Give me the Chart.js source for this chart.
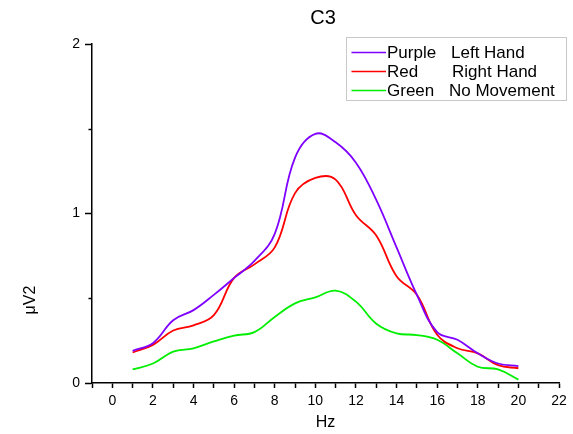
<!DOCTYPE html>
<html>
<head>
<meta charset="utf-8">
<script src="https://cdn.jsdelivr.net/npm/chart.js@4"></script>
<style>
  html, body { margin: 0; padding: 0; background: #fff; }
  #wrap { width: 573px; height: 434px; position: relative; }
</style>
</head>
<body>
<div id="wrap"><canvas id="c"></canvas></div>
<script>
// ---- data ----
const chartTitle = "C3";
const xTitle = "Hz";
const yTitle = "μV2";
const freqs = [1, 2, 3, 4, 5, 6, 7, 8, 9, 10, 11, 12, 13, 14, 15, 16, 17, 18, 19, 20];
const purpleLeft = [0.19, 0.235, 0.37, 0.43, 0.52, 0.62, 0.72, 0.88, 1.33, 1.47, 1.42, 1.30, 1.08, 0.80, 0.52, 0.30, 0.255, 0.175, 0.115, 0.10];
const redRight   = [0.18, 0.225, 0.31, 0.34, 0.40, 0.62, 0.70, 0.80, 1.12, 1.21, 1.20, 0.99, 0.87, 0.63, 0.52, 0.285, 0.205, 0.175, 0.105, 0.087];
const greenNone  = [0.08, 0.115, 0.185, 0.205, 0.245, 0.28, 0.30, 0.39, 0.47, 0.505, 0.545, 0.48, 0.35, 0.293, 0.283, 0.255, 0.175, 0.096, 0.08, 0.02];
const seriesNames = ["Purple", "Red", "Green"];
const seriesDescs = ["Left Hand", "Right Hand", "No Movement"];
const seriesColors = ["#7F00FF", "#FF0000", "#00EE00"];
const yMajorTicks = [0, 1, 2];
const yMinorTicks = [0.5, 1.5];
const xTickLabels = [0, 2, 4, 6, 8, 10, 12, 14, 16, 18, 20, 22];

const FONT = '"Liberation Sans", Arial, sans-serif';
const toPts = arr => arr.map((v, i) => ({ x: freqs[i], y: v }));
const seriesValues = [purpleLeft, redRight, greenNone];

const datasets = seriesValues.map((vals, i) => ({
  label: seriesNames[i] + " " + seriesDescs[i],
  data: toPts(vals),
  borderColor: seriesColors[i],
  backgroundColor: seriesColors[i],
  borderWidth: 1.8,
  pointRadius: 0,
  tension: 0.4,
  fill: false
}));

const decor = {
  id: 'decor',
  afterDraw(chart) {
    const ctx = chart.ctx;
    const ys = chart.scales.y;
    const ca = chart.chartArea;
    ctx.save();
    // minor y ticks
    ctx.strokeStyle = '#000';
    ctx.lineWidth = 1.5;
    yMinorTicks.forEach(v => {
      const py = Math.round(ys.getPixelForValue(v)) + 0.5;
      ctx.beginPath();
      ctx.moveTo(ca.left - 3.5, py);
      ctx.lineTo(ca.left, py);
      ctx.stroke();
    });
    // title
    ctx.fillStyle = '#000';
    ctx.font = '20px ' + FONT;
    ctx.textAlign = 'center';
    ctx.textBaseline = 'middle';
    ctx.fillText(chartTitle, 323, 18);
    // x title
    ctx.font = '16px ' + FONT;
    ctx.fillText(xTitle, (ca.left + ca.right) / 2, 423);
    // y title
    ctx.save();
    ctx.translate(31, 300);
    ctx.rotate(-Math.PI / 2);
    ctx.fillText(yTitle, 0, 0);
    ctx.restore();
    // legend box
    ctx.strokeStyle = '#c8c8c8';
    ctx.lineWidth = 1;
    ctx.strokeRect(346.5, 37.5, 220, 63);
    ctx.font = '17px ' + FONT;
    ctx.textAlign = 'left';
    const rowY = [52.5, 71.5, 90.5];
    const descX = [451, 452, 449];
    chart.data.datasets.forEach((ds, i) => {
      ctx.strokeStyle = ds.borderColor;
      ctx.lineWidth = 1.5;
      ctx.beginPath();
      ctx.moveTo(351.5, rowY[i]);
      ctx.lineTo(386, rowY[i]);
      ctx.stroke();
      ctx.fillStyle = '#000';
      ctx.fillText(seriesNames[i], 387, rowY[i] + 0.5);
      ctx.fillText(seriesDescs[i], descX[i], rowY[i] + 0.5);
    });
    ctx.restore();
  }
};

new Chart(document.getElementById('c'), {
  type: 'line',
  data: { datasets },
  plugins: [decor],
  options: {
    responsive: true,
    maintainAspectRatio: false,
    animation: false,
    layout: { padding: { left: 0, right: 14, top: 44, bottom: 0 } },
    plugins: { legend: { display: false }, title: { display: false }, tooltip: { enabled: false } },
    scales: {
      x: {
        type: 'linear',
        min: -1, max: 22,
        afterFit(s) { s.height = 51; },
        grid: { drawOnChartArea: false, drawTicks: true, tickLength: 5, tickColor: '#000', tickWidth: 1.5 },
        border: { display: true, color: '#000', width: 1.5 },
        ticks: {
          stepSize: 1, autoSkip: false, maxRotation: 0, color: '#000', padding: 5,
          font: { family: FONT, size: 14 },
          callback: v => xTickLabels.includes(v) ? String(v) : ''
        }
      },
      y: {
        type: 'linear',
        min: 0, max: 2,
        afterFit(s) { s.width = 92; },
        grid: { drawOnChartArea: false, drawTicks: true, tickLength: 7, tickColor: '#000', tickWidth: 1.5 },
        border: { display: true, color: '#000', width: 1.5 },
        ticks: {
          stepSize: 1, color: '#000', padding: 5,
          font: { family: FONT, size: 14 },
          callback: v => yMajorTicks.includes(v) ? String(v) : ''
        }
      }
    }
  }
});
</script>
</body>
</html>
